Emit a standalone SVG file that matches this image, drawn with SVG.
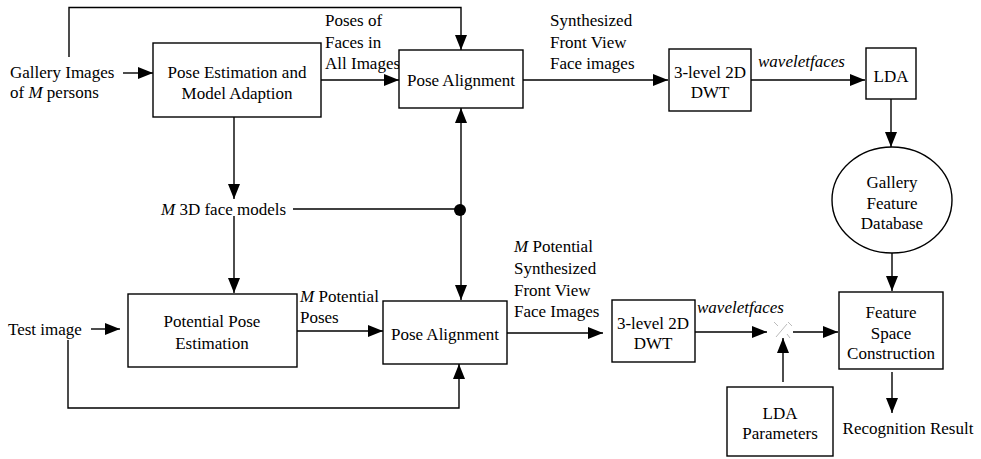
<svg xmlns="http://www.w3.org/2000/svg" width="981" height="459" viewBox="0 0 981 459">
<style>
text{font-family:"Liberation Serif","Times New Roman",serif;font-size:17px;fill:#000}
.c{text-anchor:middle}
.i{font-style:italic}
.box{fill:#fff;stroke:#000;stroke-width:1.4}
.ln{fill:none;stroke:#000;stroke-width:1.4}
.ar{marker-end:url(#ah)}
</style>
<defs>
<marker id="ah" markerUnits="userSpaceOnUse" markerWidth="16" markerHeight="12" refX="15" refY="6" orient="auto">
<path d="M0,0 L15,6 L0,12 z" fill="#000"/>
</marker>
</defs>
<rect width="981" height="459" fill="#fff"/>
<g id="connectors">
<path class="ln ar" d="M69,57 V7.5 H461 V50"/>
<path class="ln ar" d="M123,73 H153"/>
<path class="ln ar" d="M321,80 H399"/>
<path class="ln ar" d="M234,117 V199"/>
<path class="ln" d="M293,209 H461"/>
<path class="ln ar" d="M461,209 V108"/>
<path class="ln ar" d="M461,209 V300"/>
<circle cx="460" cy="210" r="6" fill="#000"/>
<path class="ln ar" d="M234,216 V293"/>
<path class="ln ar" d="M523,80 H668"/>
<path class="ln ar" d="M751,80 H865"/>
<path class="ln ar" d="M891,99 V147"/>
<path class="ln ar" d="M892,252 V291"/>
<path class="ln ar" d="M91,329 H120"/>
<path class="ln ar" d="M68,340 V408 H459 V364"/>
<path class="ln ar" d="M297,331 H383"/>
<path class="ln ar" d="M507,333 H603"/>
<path class="ln ar" d="M695,332 H767"/>
<path class="ln ar" d="M793,332 H838"/>
<path class="ln ar" d="M783,382 V338"/>
<path class="ln ar" d="M892,372 V413"/>
<g stroke="#bbb" stroke-width="1" fill="none">
<path d="M776,337 L787,324"/>
<path d="M774,322 L778,326"/>
<path d="M788,322 L792,326"/>
<path d="M787,334 L790,338"/>
</g>
</g>
<g id="gallery-label">
<text x="10" y="78">Gallery Images</text>
<text x="10" y="98">of <tspan class="i">M</tspan> persons</text>
</g>
<g id="pose-estimation">
<rect class="box" x="153" y="43" width="168" height="74"/>
<text class="c" x="237" y="78">Pose Estimation and</text>
<text class="c" x="237" y="99">Model Adaption</text>
</g>
<g id="poses-label">
<text x="325" y="26">Poses of</text>
<text x="325" y="48">Faces in</text>
<text x="325" y="69">All Images</text>
</g>
<g id="pose-alignment-1">
<rect class="box" x="399" y="50" width="124" height="58"/>
<text class="c" x="461" y="86">Pose Alignment</text>
</g>
<g id="synth-label">
<text x="550" y="26">Synthesized</text>
<text x="550" y="48">Front View</text>
<text x="550" y="69">Face images</text>
</g>
<g id="dwt-1">
<rect class="box" x="669" y="49" width="82" height="62"/>
<text class="c" x="710" y="78">3-level 2D</text>
<text class="c" x="710" y="98">DWT</text>
</g>
<g id="wavelet-label-1">
<text class="i" x="758" y="67">waveletfaces</text>
</g>
<g id="lda">
<rect class="box" x="866" y="48" width="50" height="51"/>
<text class="c" x="891" y="82">LDA</text>
</g>
<g id="gallery-db">
<ellipse class="box" cx="892" cy="200" rx="60" ry="53"/>
<text class="c" x="892" y="188">Gallery</text>
<text class="c" x="892" y="209">Feature</text>
<text class="c" x="892" y="229">Database</text>
</g>
<g id="face-models">
<text x="161" y="215"><tspan class="i">M</tspan> 3D face models</text>
</g>
<g id="test-image">
<text x="8" y="335">Test image</text>
</g>
<g id="potential-pose">
<rect class="box" x="128" y="294" width="169" height="73"/>
<text class="c" x="212" y="327">Potential Pose</text>
<text class="c" x="212" y="349">Estimation</text>
</g>
<g id="potential-poses-label">
<text x="300" y="302"><tspan class="i">M</tspan> Potential</text>
<text x="300" y="323">Poses</text>
</g>
<g id="pose-alignment-2">
<rect class="box" x="383" y="301" width="124" height="63"/>
<text class="c" x="445" y="340">Pose Alignment</text>
</g>
<g id="potential-synth-label">
<text x="514" y="252"><tspan class="i">M</tspan> Potential</text>
<text x="514" y="274">Synthesized</text>
<text x="514" y="296">Front View</text>
<text x="514" y="317">Face Images</text>
</g>
<g id="dwt-2">
<rect class="box" x="612" y="300" width="83" height="62"/>
<text class="c" x="653" y="329">3-level 2D</text>
<text class="c" x="653" y="349">DWT</text>
</g>
<g id="wavelet-label-2">
<text class="i" x="697" y="313">waveletfaces</text>
</g>
<g id="feature-space">
<rect class="box" x="839" y="292" width="104" height="77"/>
<text class="c" x="891" y="318">Feature</text>
<text class="c" x="891" y="339">Space</text>
<text class="c" x="891" y="359">Construction</text>
</g>
<g id="lda-params">
<rect class="box" x="727" y="387" width="106" height="69"/>
<text class="c" x="780" y="419">LDA</text>
<text class="c" x="780" y="439">Parameters</text>
</g>
<g id="result">
<text class="c" x="908" y="434">Recognition Result</text>
</g>
</svg>
